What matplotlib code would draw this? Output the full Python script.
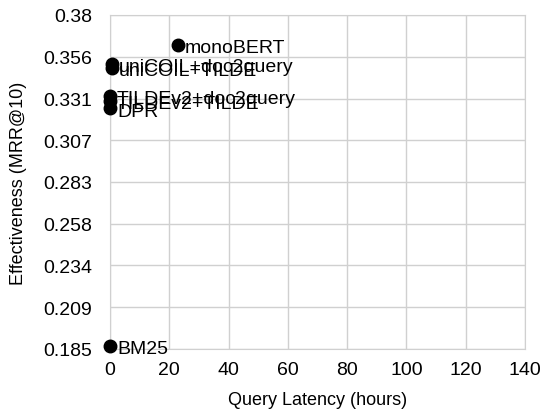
import matplotlib
matplotlib.use("Agg")
import matplotlib.pyplot as plt
import numpy as np

plt.rcParams["font.family"] = ["Liberation Sans", "DejaVu Sans"]

# data
models = ["monoBERT", "uniCOIL+doc2query", "uniCOIL+TILDE",
          "TILDEv2+doc2query", "TILDEv2+TILDE", "DPR", "BM25"]
latency = [22.9, 0.7, 0.7, 0.0, 0.0, 0.0, 0.0]
mrr = [0.3625, 0.3515, 0.349, 0.333, 0.330, 0.3255, 0.187]

y_ticks = [0.185, 0.209, 0.234, 0.258, 0.283, 0.307, 0.331, 0.356, 0.38]
x_ticks = [0, 20, 40, 60, 80, 100, 120, 140]

fig = plt.figure(figsize=(5.43, 4.10), dpi=100)
ax = fig.add_axes([110 / 543, 60 / 410, 415 / 543, 334 / 410])

ax.plot(latency, mrr, "o", color="black", markersize=9, zorder=3, clip_on=False)
for name, x, y in zip(models, latency, mrr):
    ax.annotate(name, (x, y), xytext=(5, -2), textcoords="offset points",
                va="center", ha="left", fontsize=14, zorder=4)

ax.set_xlim(0, 140)
ax.set_ylim(0.185, 0.38)
ax.set_xticks(x_ticks)
ax.set_yticks(np.linspace(0.185, 0.38, 9))
ax.set_yticklabels([str(t) for t in y_ticks])
ax.tick_params(axis="y", length=0, labelsize=14, pad=13)
ax.tick_params(axis="x", length=0, labelsize=14, pad=9)
ax.grid(True, color="#d0d0d0", linewidth=1)
for s in ax.spines.values():
    s.set_color("#d0d0d0")
ax.set_axisbelow(True)

ax.set_xlabel("Query Latency (hours)", fontsize=13)
ax.set_ylabel("Effectiveness (MRR@10)", fontsize=13)
ax.xaxis.set_label_coords(0.5, -0.125)
ax.yaxis.set_label_coords(-0.2, 0.5)

fig.savefig("out.png", dpi=100)
